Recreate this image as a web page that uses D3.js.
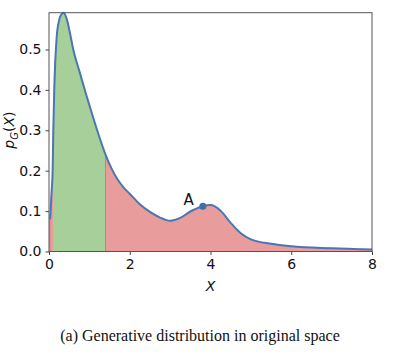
<!DOCTYPE html>
<html>
<head>
<meta charset="utf-8">
<script src="https://cdn.jsdelivr.net/npm/d3@7"></script>
<style>
  body { margin: 0; background: #fff; }
  svg text { font-family: "DejaVu Sans", sans-serif; fill: #111; }
  .caption { font-family: "Liberation Serif", "Times New Roman", serif; }
</style>
</head>
<body>
<div id="chart"></div>
<script>
// density curve
const xs = [0.03, 0.06, 0.09, 0.107, 0.13, 0.19, 0.25, 0.3, 0.36, 0.44, 0.52, 0.6, 0.75, 0.916, 1.05, 1.197, 1.4, 1.55, 1.7, 1.85, 2.0, 2.25, 2.5, 2.75, 3.0, 3.25, 3.5, 3.81, 4.0, 4.25, 4.5, 4.75, 5.0, 5.5, 6.0, 7.0, 8.0];
const density = [0.08, 0.14, 0.2, 0.3, 0.4, 0.53, 0.572, 0.586, 0.591, 0.575, 0.54, 0.5, 0.447, 0.39, 0.346, 0.299, 0.24, 0.205, 0.178, 0.158, 0.143, 0.117, 0.098, 0.084, 0.076, 0.083, 0.099, 0.112, 0.115, 0.101, 0.071, 0.045, 0.03, 0.019, 0.013, 0.008, 0.005];
const greenRange = [0.1, 1.4];
const xTicks = [0, 2, 4, 6, 8];
const yTicks = [0.0, 0.1, 0.2, 0.3, 0.4, 0.5];
const pointA = { x: 3.81, y: 0.112, label: 'A' };
const caption = '(a) Generative distribution in original space';

const width = 403, height = 360;
const margin = { top: 12.7, right: 31, bottom: 108.5, left: 49 };
const w = width - margin.left - margin.right;
const h = height - margin.top - margin.bottom;

const data = xs.map((x, i) => ({ x: x, y: density[i] }));

const svg = d3.select('#chart').append('svg')
  .attr('width', width)
  .attr('height', height);

const g = svg.append('g')
  .attr('transform', `translate(${margin.left},${margin.top})`);

const x = d3.scaleLinear().domain([0, 8]).range([0, w]);
const y = d3.scaleLinear().domain([0, 0.591]).range([h, 0]);

const area = d3.area()
  .x(d => x(d.x))
  .y0(y(0))
  .y1(d => y(d.y))
  .curve(d3.curveMonotoneX);

const line = d3.line()
  .x(d => x(d.x))
  .y(d => y(d.y))
  .curve(d3.curveMonotoneX);

// clip for green part
g.append('clipPath').attr('id', 'green-clip')
  .append('rect')
  .attr('x', x(greenRange[0]))
  .attr('y', 0)
  .attr('width', x(greenRange[1]) - x(greenRange[0]))
  .attr('height', h);

// red sliver on the far left
g.append('rect')
  .attr('x', x(0))
  .attr('y', y(density[0]))
  .attr('width', x(greenRange[0]) - x(0))
  .attr('height', y(0) - y(density[0]))
  .attr('fill', '#e99c9c');

g.append('path')
  .datum(data)
  .attr('d', area)
  .attr('fill', '#e99c9c')
  .attr('stroke', '#d98a8a')
  .attr('stroke-width', 1);

g.append('path')
  .datum(data)
  .attr('d', area)
  .attr('clip-path', 'url(#green-clip)')
  .attr('fill', '#a7cf99');

// edge of the green band
const interp = d3.scaleLinear().domain(xs).range(density);
g.append('line')
  .attr('x1', x(greenRange[1])).attr('x2', x(greenRange[1]))
  .attr('y1', y(0)).attr('y2', y(interp(greenRange[1])))
  .attr('stroke', '#b98a78')
  .attr('stroke-width', 1);

g.append('path')
  .datum(data)
  .attr('d', line)
  .attr('fill', 'none')
  .attr('stroke', '#4a77b4')
  .attr('stroke-width', 2);

// point A
g.append('circle')
  .attr('cx', x(pointA.x))
  .attr('cy', y(pointA.y))
  .attr('r', 3.5)
  .attr('fill', '#3f6ea8');

g.append('text')
  .attr('x', x(pointA.x) - 9)
  .attr('y', y(pointA.y) - 1)
  .attr('text-anchor', 'end')
  .style('font-size', '15px')
  .text(pointA.label);

// axes
const xAxis = g.append('g')
  .attr('transform', `translate(0,${h})`)
  .call(d3.axisBottom(x).tickValues(xTicks).tickSize(3.5).tickPadding(4).tickFormat(d3.format('d')));

const yAxis = g.append('g')
  .call(d3.axisLeft(y).tickValues(yTicks).tickSize(3.5).tickPadding(4).tickFormat(d3.format('.1f')));

[xAxis, yAxis].forEach(a => {
  a.select('.domain').remove();
  a.selectAll('line').attr('stroke', '#444');
  a.selectAll('text').style('font-size', '14px').attr('fill', '#111');
});

// frame
g.append('rect')
  .attr('x', 0).attr('y', 0)
  .attr('width', w).attr('height', h)
  .attr('fill', 'none')
  .attr('stroke', '#555')
  .attr('stroke-width', 1);

// axis labels
g.append('text')
  .attr('x', w / 2)
  .attr('y', h + 40)
  .attr('text-anchor', 'middle')
  .style('font-size', '14px')
  .style('font-style', 'italic')
  .text('X');

const yl = g.append('text')
  .attr('transform', `translate(${-35},${h / 2 - 2}) rotate(-90)`)
  .attr('text-anchor', 'middle')
  .style('font-size', '14px');
yl.append('tspan').style('font-style', 'italic').text('p');
yl.append('tspan').attr('dy', 4).style('font-size', '10px').style('font-style', 'italic').text('G');
yl.append('tspan').attr('dy', -4).text('(');
yl.append('tspan').style('font-style', 'italic').text('X');
yl.append('tspan').text(')');

svg.append('text')
  .attr('class', 'caption')
  .attr('x', 200)
  .attr('y', 340.5)
  .attr('text-anchor', 'middle')
  .style('font-size', '16px')
  .text(caption);
</script>
</body>
</html>
